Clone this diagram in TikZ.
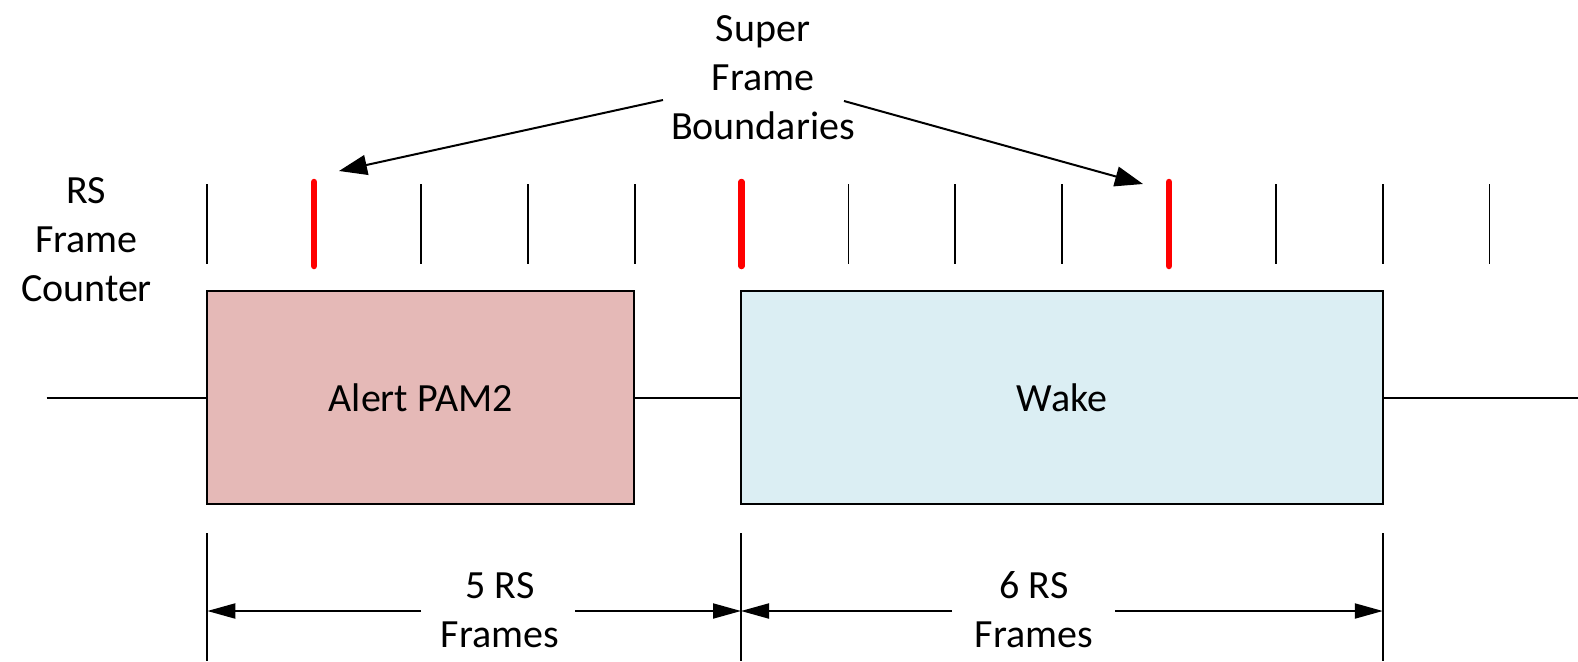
\documentclass[tikz,border=0pt]{standalone}
\usepackage{fontspec}
\setmainfont{Carlito}
\usetikzlibrary{arrows.meta}
\definecolor{alertfill}{HTML}{E5B9B7}
\definecolor{wakefill}{HTML}{DBEEF3}
\definecolor{sfred}{HTML}{FF0000}
\begin{document}
\begin{tikzpicture}[x=1pt,y=-1pt,
  every node/.style={font=\fontsize{40}{49}\selectfont, inner sep=0pt},
  lbl/.style={align=center},
  framebox/.style={draw=black, line width=2pt, minimum width=#1, minimum height=213pt},
  tickline/.style={line width=1.8pt},
  sfbtick/.style={draw=sfred, line width=6.5pt, line cap=round},
  callout/.style={line width=2pt, -{Triangle[length=28pt,width=20pt]}},
  dimline/.style={line width=2pt, -{Triangle[length=28pt,width=15pt]}},
  wire/.style={line width=2pt}]
\useasboundingbox (0,0) rectangle (1578,661);

% labels
\node[lbl] (sfb) at (763,77.5) {Super\\Frame\\Boundaries};
\node[lbl] (rsc) at (86.5,239.5) {RS\\Frame\\Counter};

% RS frame counter ticks
\foreach \i in {0,2,3,4,6,7,8,10,11,12}{
  \draw[tickline] ({207.3+\i*106.85},184) -- ({207.3+\i*106.85},264);
}
\coordinate (sf1) at ({207.3+1*106.85},224);
\coordinate (sf2) at ({207.3+5*106.85},224);
\coordinate (sf3) at ({207.3+9*106.85},224);
\foreach \c in {sf1,sf2,sf3}{
  \draw[sfbtick] ([yshift=-42pt]\c) -- ([yshift=42pt]\c);
}

% callout arrows
\coordinate (aL0) at (663,100);
\coordinate (aL1) at (339,171);
\coordinate (aR0) at (844,101);
\coordinate (aR1) at (1143,184);
\draw[callout] (aL0) -- (aL1);
\draw[callout] (aR0) -- (aR1);

% frames
\node[framebox=426.7pt, fill=alertfill] (alert) at (420.65,397.5) {Alert PAM2};
\node[framebox=641.8pt, fill=wakefill] (wake) at (1061.9,397.5) {Wake};

\coordinate (lineL) at (46.7,397.5);
\coordinate (lineR) at (1578,397.5);
\draw[wire] (lineL) -- (alert.west);
\draw[wire] (alert.east) -- (wake.west);
\draw[wire] (wake.east) -- (lineR);

% dimension lines
\coordinate (d0t) at (207.3,533);  \coordinate (d0b) at (207.3,661);
\coordinate (d1t) at (741,533);    \coordinate (d1b) at (741,661);
\coordinate (d2t) at (1382.8,533); \coordinate (d2b) at (1382.8,661);
\draw[tickline] (d0t) -- (d0b);
\draw[tickline] (d1t) -- (d1b);
\draw[tickline] (d2t) -- (d2b);

\coordinate (a0) at (207.3,611);
\coordinate (a1) at (741,611);
\coordinate (a2) at (1382.8,611);
\coordinate (g1l) at (421,611); \coordinate (g1r) at (575,611);
\coordinate (g2l) at (952,611); \coordinate (g2r) at (1115,611);
\draw[dimline] (g1l) -- (a0);
\draw[dimline] (g1r) -- (a1);
\draw[dimline] (g2l) -- (a1);
\draw[dimline] (g2r) -- (a2);

\node[lbl] (n5) at (500,610) {5 RS\\Frames};
\node[lbl] (n6) at (1034,610) {6 RS\\Frames};
\end{tikzpicture}
\end{document}
